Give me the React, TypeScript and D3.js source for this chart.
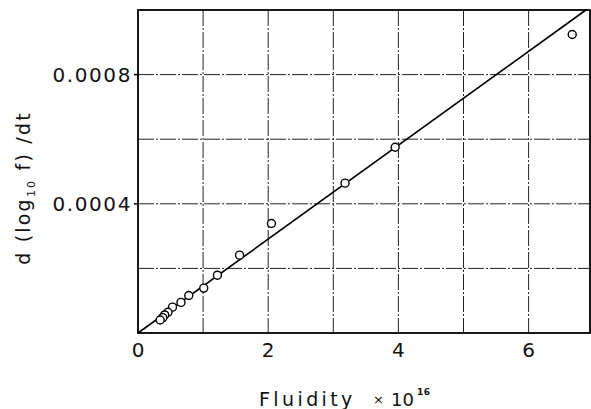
import React from "react";
import * as d3 from "d3";

const xTicks = [0, 2, 4, 6];
const xGrid = [1, 2, 3, 4, 5, 6];
const yTicks = [0.0004, 0.0008];
const yGrid = [0.0002, 0.0004, 0.0006, 0.0008];
const fluidity = [6.67, 3.95, 3.18, 2.05, 1.56, 1.22, 1.01, 0.78, 0.66, 0.53, 0.46, 0.41, 0.38, 0.34];
const rate = [0.000924, 0.000575, 0.000464, 0.000339, 0.000241, 0.000179, 0.000139, 0.000116, 0.0000947, 0.0000801, 0.0000643, 0.0000559, 0.0000475, 0.0000404];
const fitX = [0, 6.88];
const fitY = [0, 0.001];

const W = 591, H = 409;
const L = 138, R = 590, T = 10, B = 333;

export default function App() {
  const x = d3.scaleLinear().domain([0, 6.943]).range([L, R]);
  const y = d3.scaleLinear().domain([0, 0.001]).range([B, T]);
  const line = d3.line<number>().x((d) => x(fitX[d])).y((d) => y(fitY[d]));
  const font = "'DejaVu Sans', 'Liberation Sans', sans-serif";
  return (
    <svg width={W} height={H} style={{ position: "absolute", left: 0, top: 0, background: "#fff" }} fontFamily={font}>
      <rect x={0} y={0} width={W} height={H} fill="#fff" />
      {xGrid.map((v) => (
        <line key={"xg" + v} x1={x(v)} x2={x(v)} y1={T} y2={B} stroke="#222" strokeWidth={1} strokeDasharray="16,2,2,2" />
      ))}
      {yGrid.map((v) => (
        <line key={"yg" + v} x1={L} x2={R} y1={y(v)} y2={y(v)} stroke="#222" strokeWidth={1} strokeDasharray="16,2,2,2" />
      ))}
      <rect x={L} y={T} width={R - L} height={B - T} fill="none" stroke="#000" strokeWidth={1.8} />
      {yTicks.map((v) => (
        <g key={"yt" + v}>
          <line x1={L - 4} x2={L} y1={y(v)} y2={y(v)} stroke="#000" strokeWidth={1.5} />
          <text x={L - 6} y={y(v)} dy="0.36em" textAnchor="end" fontSize={20} letterSpacing={1.6} fill="#111">
            {d3.format(".4f")(v)}
          </text>
        </g>
      ))}
      {xTicks.map((v) => (
        <text key={"xt" + v} x={x(v)} y={357} textAnchor="middle" fontSize={20} fill="#111">
          {v}
        </text>
      ))}
      <path d={line([0, 1]) || ""} fill="none" stroke="#000" strokeWidth={1.6} />
      {fluidity.map((v, i) => (
        <circle key={"p" + i} cx={x(v)} cy={y(rate[i])} r={4} fill="#fff" stroke="#000" strokeWidth={1.4} />
      ))}
      <text y={406} fontSize={19} letterSpacing={3.4} fill="#111">
        <tspan x={259}>Fluidity</tspan>
        <tspan x={373} fontSize={13} dy={-2}>×</tspan>
        <tspan x={391} dy={2} fontSize={18} letterSpacing={0}>10</tspan>
        <tspan x={417} fontSize={9} dy={-11} fontWeight="bold" letterSpacing={0.5}>16</tspan>
      </text>
      <text transform="translate(30,188) rotate(-90)" textAnchor="middle" fontSize={19} letterSpacing={2.2} fill="#111">
        d (log<tspan fontSize={11} dy={5}>10</tspan>
        <tspan dy={-5}> f) /dt</tspan>
      </text>
    </svg>
  );
}
